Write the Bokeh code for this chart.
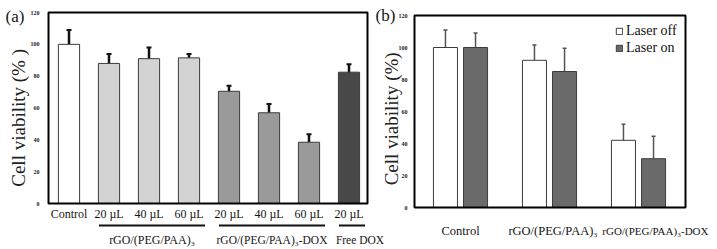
import math
from bokeh.plotting import figure
from bokeh.models import (ColumnDataSource, Whisker, TeeHead, Range1d, Legend, LegendItem)
from bokeh.core.properties import value
from bokeh.embed import file_html
from bokeh.resources import INLINE

# ---------------- data ----------------
a_tick_labels = ["Control", "20 \u00b5L", "40 \u00b5L", "60 \u00b5L",
                 "20 \u00b5L", "40 \u00b5L", "60 \u00b5L", "20 \u00b5L"]
a_values = [100, 88, 91, 91.5, 70.5, 57, 38.5, 82.5]
a_errors = [9, 6, 7, 2.5, 3.5, 5.5, 5, 5]
a_colors = ["#ffffff", "#d3d3d3", "#d3d3d3", "#d3d3d3",
            "#9a9a9a", "#9a9a9a", "#9a9a9a", "#484848"]
a_groups = ["rGO/(PEG/PAA)\u2083", "rGO/(PEG/PAA)\u2083-DOX", "Free DOX"]
a_group_members = [[1, 3], [4, 6], [7, 7]]

b_groups = ["Control", "rGO/(PEG/PAA)\u2083", "rGO/(PEG/PAA)\u2083-DOX"]
b_off = [100, 92, 42]
b_off_err = [11, 9.5, 10]
b_on = [100, 85, 30.5]
b_on_err = [9, 14.5, 14]
b_series = ["Laser off", "Laser on"]

y_ticks = [0, 20, 40, 60, 80, 100, 120]

SERIF = "Liberation Serif"
W, H = 717, 249          # canvas (the page template has no body margin)

# ---- layout helpers: page pixel -> data (layout only) ----
def ax(px):  # panel (a) x
    return (px - 68.5) / 40.0
def ay(py):  # panel (a) y
    return (203.0 - py) / (191.0 / 120.0)
def bx(px):  # panel (b) x
    return (px - 460.0) / 89.0
def by(py):  # panel (b) y
    return (207.0 - py) / 1.6

p = figure(width=W, height=H, output_backend="svg", toolbar_location=None,
           x_range=Range1d(ax(0), ax(W)), y_range=Range1d(ay(H), ay(0)),
           x_axis_location=None, y_axis_location=None,
           min_border=0, min_border_left=0, min_border_right=0,
           min_border_top=0, min_border_bottom=0, title="")
p.extra_x_ranges = {"b": Range1d(bx(0), bx(W))}
p.extra_y_ranges = {"b": Range1d(by(H), by(0))}
p.grid.visible = False
p.outline_line_color = None
p.background_fill_color = "white"
p.border_fill_color = "white"

def txt(x, y, s, size, align="center", baseline="middle", angle=0, style="normal",
        color="#151515", rng=None):
    kw = {}
    if rng:
        kw = dict(x_range_name=rng, y_range_name=rng)
    p.text(x=x, y=y, text=s, text_font=value(SERIF), text_font_size=size,
           text_align=align, text_baseline=baseline, angle=angle,
           text_font_style=style, text_color=color, **kw)

# ================= panel (a) =================
xa = list(range(len(a_values)))
src_a = ColumnDataSource(dict(x=xa, top=a_values, color=a_colors,
                              upper=[v + e for v, e in zip(a_values, a_errors)],
                              lower=[v - 1 for v in a_values]))
p.vbar(x="x", top="top", bottom=0, width=0.53, fill_color="color",
       line_color="#3c3c3c", line_width=1, source=src_a)
p.add_layout(Whisker(base="x", upper="upper", lower="lower", source=src_a,
                     line_color="#111111", line_width=2.5,
                     upper_head=TeeHead(size=5, line_width=2, line_color="#111111"),
                     lower_head=TeeHead(size=5, line_width=2, line_color="#111111")))
# frame
p.quad(left=[ax(48)], right=[ax(367)], bottom=[0], top=[120], fill_color=None,
       line_color="black", line_width=2)
# y ticks
txt([ax(39)] * len(y_ticks), y_ticks, [str(t) for t in y_ticks], "6px",
    align="right", style="bold", color="#222222")
# y title
txt([ax(18)], [ay(115)], ["Cell  viability (% )"], "19px", angle=math.pi / 2,
    color="#222222")
txt([ax(5)], [ay(16)], ["(a)"], "17px", align="left")
# x tick labels
txt(xa, [ay(213)] * len(xa), a_tick_labels, "12px")
# group underlines and names
g_left = [m[0] - 0.25 for m in a_group_members]
g_right = [m[1] + 0.4 for m in a_group_members]
p.segment(x0=g_left, x1=g_right, y0=[ay(225)] * 3, y1=[ay(225)] * 3,
          line_color="#111111", line_width=2)
g_nudge = [0.0, 0.0, 0.2]
g_size = ["12px", "11.5px", "11.5px"]
for l, r, n, g, sz in zip(g_left, g_right, g_nudge, a_groups, g_size):
    txt([(l + r) / 2 + n], [ay(239)], [g], sz)

# ================= panel (b) =================
xb = list(range(len(b_groups)))
src_off = ColumnDataSource(dict(x=[x - 0.169 for x in xb], top=b_off,
                                upper=[v + e for v, e in zip(b_off, b_off_err)],
                                lower=[v - 1 for v in b_off]))
src_on = ColumnDataSource(dict(x=[x + 0.169 for x in xb], top=b_on,
                               upper=[v + e for v, e in zip(b_on, b_on_err)],
                               lower=[v - 1 for v in b_on]))
r_off = p.vbar(x="x", top="top", bottom=0, width=0.27, fill_color="#ffffff",
               line_color="#3c3c3c", line_width=1, source=src_off,
               x_range_name="b", y_range_name="b")
r_on = p.vbar(x="x", top="top", bottom=0, width=0.27, fill_color="#6a6a6a",
              line_color="#3c3c3c", line_width=1, source=src_on,
              x_range_name="b", y_range_name="b")
for s in (src_off, src_on):
    p.add_layout(Whisker(base="x", upper="upper", lower="lower", source=s,
                         x_range_name="b", y_range_name="b",
                         line_color="#555555", line_width=1.5,
                         upper_head=TeeHead(size=4, line_width=1.5, line_color="#555555"),
                         lower_head=TeeHead(size=4, line_width=1.5, line_color="#555555")))
p.quad(left=[bx(414)], right=[bx(685)], bottom=[0], top=[120], fill_color=None,
       line_color="black", line_width=2, x_range_name="b", y_range_name="b")
txt([bx(407)] * len(y_ticks), y_ticks, [str(t) for t in y_ticks], "6px",
    align="right", style="bold", color="#222222", rng="b")
txt([bx(391)], [by(116)], ["Cell  viability (%)"], "19px", angle=math.pi / 2,
    color="#222222", rng="b")
txt([bx(375)], [by(15)], ["(b)"], "17px", align="left", rng="b")
b_label_nudge = [0.0, 0.04, 0.19]
b_label_size = ["12.5px", "12.5px", "11px"]
for i, (g, n, sz) in enumerate(zip(b_groups, b_label_nudge, b_label_size)):
    txt([xb[i] + n], [by(230)], [g], sz, rng="b")

legend = Legend(items=[LegendItem(label=b_series[0], renderers=[r_off]),
                       LegendItem(label=b_series[1], renderers=[r_on])],
                location=(615, 193), margin=0, padding=0, spacing=1,
                glyph_width=8, glyph_height=8, label_standoff=3, label_height=13,
                label_text_font=SERIF, label_text_font_size="14px",
                label_text_color="#111111",
                border_line_color=None, background_fill_alpha=0)
p.add_layout(legend)

open("out.html", "w").write(file_html(p, INLINE))
